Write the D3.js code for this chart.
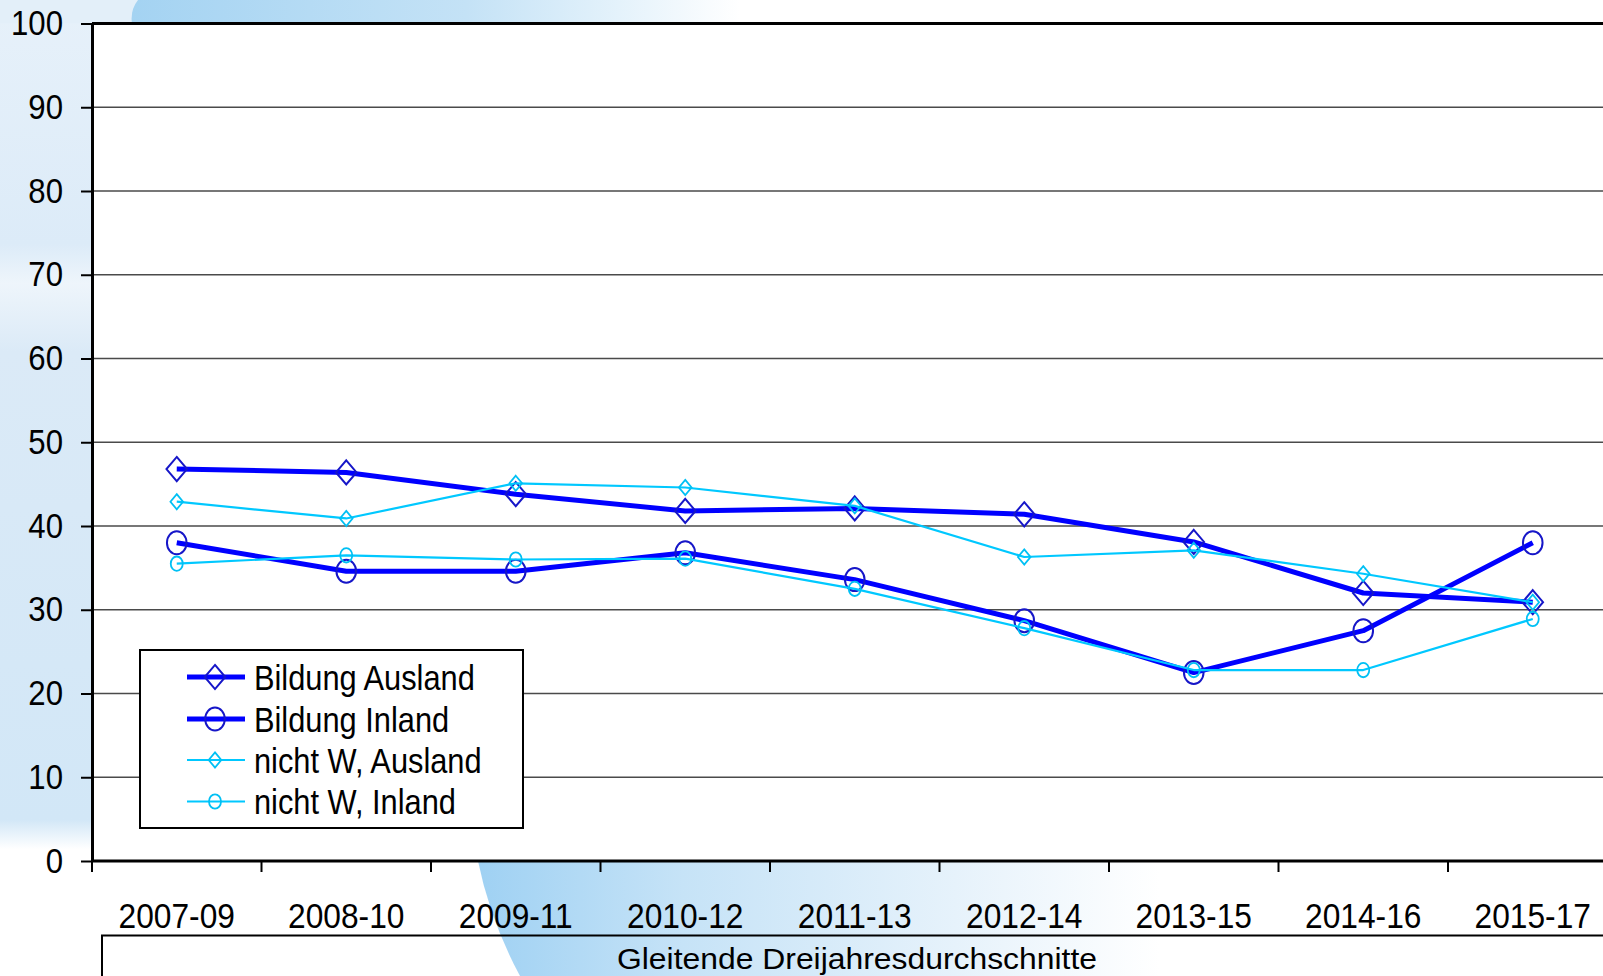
<!DOCTYPE html>
<html>
<head>
<meta charset="utf-8">
<script src="https://cdn.jsdelivr.net/npm/d3@7"></script>
<style>
  html, body { margin: 0; padding: 0; background: #fff; overflow: hidden; }
  svg { display: block; }
</style>
</head>
<body>
<div id="chart"></div>
<script>
// ===== data =====
const categories = ['2007-09', '2008-10', '2009-11', '2010-12', '2011-13', '2012-14', '2013-15', '2014-16', '2015-17'];
const seriesNames = ['Bildung Ausland', 'Bildung Inland', 'nicht W, Ausland', 'nicht W, Inland'];
const bildungAusland = [46.8, 46.4, 43.8, 41.8, 42.1, 41.4, 38.1, 32.0, 30.9];
const bildungInland = [38.0, 34.6, 34.6, 36.8, 33.6, 28.7, 22.5, 27.5, 38.0];
const nichtWAusland = [42.9, 40.9, 45.1, 44.6, 42.4, 36.3, 37.1, 34.3, 30.9];
const nichtWInland = [35.5, 36.5, 36.0, 36.1, 32.5, 27.8, 22.8, 22.8, 28.9];
const yTicks = [0, 10, 20, 30, 40, 50, 60, 70, 80, 90, 100];
const xTitle = 'Gleitende Dreijahresdurchschnitte';

const W = 1603, H = 976;
const FONT = "'Liberation Sans', Arial, sans-serif";
const plotLeft = 92, plotTop = 23.5, plotBottom = 861;
const bandW = 169.5;
const squeeze = 0.89;   // the original picture is horizontally compressed

const series = [
  { name: seriesNames[0], values: bildungAusland, shape: 'diamond', big: true },
  { name: seriesNames[1], values: bildungInland, shape: 'circle', big: true },
  { name: seriesNames[2], values: nichtWAusland, shape: 'diamond', big: false },
  { name: seriesNames[3], values: nichtWInland, shape: 'circle', big: false }
];

const style = s => s.big
  ? { line: '#0000ff', marker: '#1616c8', width: 5, mw: 2, rx: 9.8, ry: 11.5 }
  : { line: '#00c8ff', marker: '#00c0f4', width: 2.2, mw: 1.8, rx: 6, ry: 7.2 };

const svg = d3.select('#chart').append('svg')
  .attr('width', W)
  .attr('height', H);

// ===== background decoration =====
const defs = svg.append('defs');
const gLeft = defs.append('linearGradient').attr('id', 'bg-left')
  .attr('x1', 0).attr('y1', 0).attr('x2', 0).attr('y2', 1);
gLeft.append('stop').attr('offset', '0%').attr('stop-color', '#e7f1fa');
gLeft.append('stop').attr('offset', '25%').attr('stop-color', '#dcebf8');
gLeft.append('stop').attr('offset', '29%').attr('stop-color', '#eef5fb');
gLeft.append('stop').attr('offset', '36%').attr('stop-color', '#dbeaf7');
gLeft.append('stop').attr('offset', '84%').attr('stop-color', '#d2e7f7');
gLeft.append('stop').attr('offset', '87%').attr('stop-color', '#ffffff');
gLeft.append('stop').attr('offset', '100%').attr('stop-color', '#ffffff');

const gTop = defs.append('linearGradient').attr('id', 'bg-top')
  .attr('x1', 0).attr('y1', 0).attr('x2', 1).attr('y2', 0);
gTop.append('stop').attr('offset', '0%').attr('stop-color', '#a4d3f2');
gTop.append('stop').attr('offset', '55%').attr('stop-color', '#c4e2f6');
gTop.append('stop').attr('offset', '80%').attr('stop-color', '#e4f2fb');
gTop.append('stop').attr('offset', '100%').attr('stop-color', '#ffffff');

const gBot = defs.append('linearGradient').attr('id', 'bg-bot')
  .attr('x1', 0).attr('y1', 0).attr('x2', 1).attr('y2', 0);
gBot.append('stop').attr('offset', '0%').attr('stop-color', '#9fd1f3');
gBot.append('stop').attr('offset', '30%').attr('stop-color', '#c6e3f7');
gBot.append('stop').attr('offset', '70%').attr('stop-color', '#e6f2fb');
gBot.append('stop').attr('offset', '100%').attr('stop-color', '#ffffff');

svg.append('rect').attr('width', W).attr('height', H).attr('fill', '#ffffff');
svg.append('rect').attr('x', 0).attr('y', 0).attr('width', plotLeft).attr('height', H)
  .attr('fill', 'url(#bg-left)');
svg.append('rect').attr('x', 0).attr('y', 0).attr('width', 140).attr('height', plotTop)
  .attr('fill', '#e3eff9');
svg.append('path')
  .attr('d', 'M138,0 L740,0 L740,24 L132,24 Q130,10 138,0 Z')
  .attr('fill', 'url(#bg-top)');
svg.append('path')
  .attr('d', 'M478,861 L1160,861 L1160,976 L520,976 Q490,920 478,861 Z')
  .attr('fill', 'url(#bg-bot)');

// ===== scales =====
const x = d3.scaleBand()
  .domain(categories)
  .range([plotLeft, plotLeft + bandW * categories.length])
  .padding(0);

const y = d3.scaleLinear()
  .domain([0, 100])
  .range([plotBottom, plotTop]);

// plot area
svg.append('rect')
  .attr('x', plotLeft).attr('y', plotTop)
  .attr('width', W - plotLeft).attr('height', plotBottom - plotTop)
  .attr('fill', '#ffffff');

// gridlines
svg.append('g').selectAll('line')
  .data(yTicks.filter(t => t > 0 && t < 100))
  .join('line')
  .attr('x1', plotLeft).attr('x2', W)
  .attr('y1', d => y(d)).attr('y2', d => y(d))
  .attr('stroke', '#4a4a4a')
  .attr('stroke-width', 1.4);

// top border of the plot
svg.append('line')
  .attr('x1', plotLeft).attr('x2', W)
  .attr('y1', y(100)).attr('y2', y(100))
  .attr('stroke', '#000').attr('stroke-width', 3);

// ===== y axis =====
const yAxis = svg.append('g')
  .attr('transform', `translate(${plotLeft},0)`)
  .call(d3.axisLeft(y).tickValues(yTicks).tickSize(11).tickSizeOuter(0));
yAxis.select('.domain').attr('stroke', '#000').attr('stroke-width', 3);
yAxis.selectAll('.tick line').attr('stroke', '#000').attr('stroke-width', 2);
yAxis.selectAll('.tick text')
  .attr('x', -29 / squeeze)
  .attr('transform', `scale(${squeeze},1)`)
  .attr('fill', '#000')
  .style('font-size', '35px')
  .style('font-family', FONT);

// ===== x axis =====
const xAxis = svg.append('g');
xAxis.append('line')
  .attr('x1', plotLeft).attr('x2', W)
  .attr('y1', plotBottom).attr('y2', plotBottom)
  .attr('stroke', '#000').attr('stroke-width', 3);
xAxis.selectAll('line.bound')
  .data(categories)
  .join('line')
  .attr('class', 'bound')
  .attr('x1', d => x(d)).attr('x2', d => x(d))
  .attr('y1', plotBottom).attr('y2', plotBottom + 11)
  .attr('stroke', '#000').attr('stroke-width', 2);
xAxis.selectAll('g.lbl')
  .data(categories)
  .join('g')
  .attr('class', 'lbl')
  .attr('transform', d => `translate(${x(d) + x.bandwidth() / 2},${plotBottom + 54}) scale(0.906,1)`)
  .append('text')
  .attr('text-anchor', 'middle')
  .attr('dy', '0.36em')
  .attr('font-size', '35px')
  .attr('font-family', FONT)
  .attr('fill', '#000')
  .text(d => d);

// box under the categories with axis title
svg.append('path')
  .attr('d', `M102,${H} L102,935.5 L${W},935.5`)
  .attr('fill', 'none')
  .attr('stroke', '#000').attr('stroke-width', 2);
svg.append('text')
  .attr('x', 857).attr('y', 969)
  .attr('text-anchor', 'middle')
  .attr('font-size', '30px')
  .attr('font-family', FONT)
  .attr('textLength', 480)
  .attr('lengthAdjust', 'spacingAndGlyphs')
  .attr('fill', '#000')
  .text(xTitle);

// ===== markers =====
function drawMarker(g, shape, cx, cy, st) {
  if (shape === 'circle') {
    g.append('ellipse')
      .attr('cx', cx).attr('cy', cy)
      .attr('rx', st.rx).attr('ry', st.ry)
      .attr('fill', 'none')
      .attr('stroke', st.marker).attr('stroke-width', st.mw);
  } else {
    const hx = st.rx * 1.05, hy = st.ry * 1.05;
    g.append('path')
      .attr('d', `M${cx},${cy - hy} L${cx + hx},${cy} L${cx},${cy + hy} L${cx - hx},${cy} Z`)
      .attr('fill', 'none')
      .attr('stroke', st.marker).attr('stroke-width', st.mw);
  }
}

// ===== series =====
const line = d3.line()
  .x((d, i) => x(categories[i]) + x.bandwidth() / 2)
  .y(d => y(d));

series.forEach(s => {
  const st = style(s);
  const g = svg.append('g');
  g.append('path')
    .datum(s.values)
    .attr('d', line)
    .attr('fill', 'none')
    .attr('stroke', st.line)
    .attr('stroke-width', st.width)
    .attr('stroke-linejoin', 'round');
  s.values.forEach((v, i) => {
    drawMarker(g, s.shape, x(categories[i]) + x.bandwidth() / 2, y(v), st);
  });
});

// ===== legend =====
const legend = svg.append('g');
legend.append('rect')
  .attr('x', 140).attr('y', 650)
  .attr('width', 383).attr('height', 178)
  .attr('fill', '#fff')
  .attr('stroke', '#000').attr('stroke-width', 2);

const rowY = [677, 719, 760, 801.5];
series.forEach((s, i) => {
  const st = style(s);
  const g = legend.append('g');
  g.append('line')
    .attr('x1', 187).attr('x2', 245)
    .attr('y1', rowY[i]).attr('y2', rowY[i])
    .attr('stroke', st.line).attr('stroke-width', st.width);
  drawMarker(g, s.shape, 215, rowY[i], st);
  g.append('g')
    .attr('transform', `translate(254,${rowY[i]}) scale(0.88,1)`)
    .append('text')
    .attr('dy', '0.36em')
    .attr('font-size', '35px')
    .attr('font-family', FONT)
    .attr('fill', '#000')
    .text(s.name);
});
</script>
</body>
</html>
